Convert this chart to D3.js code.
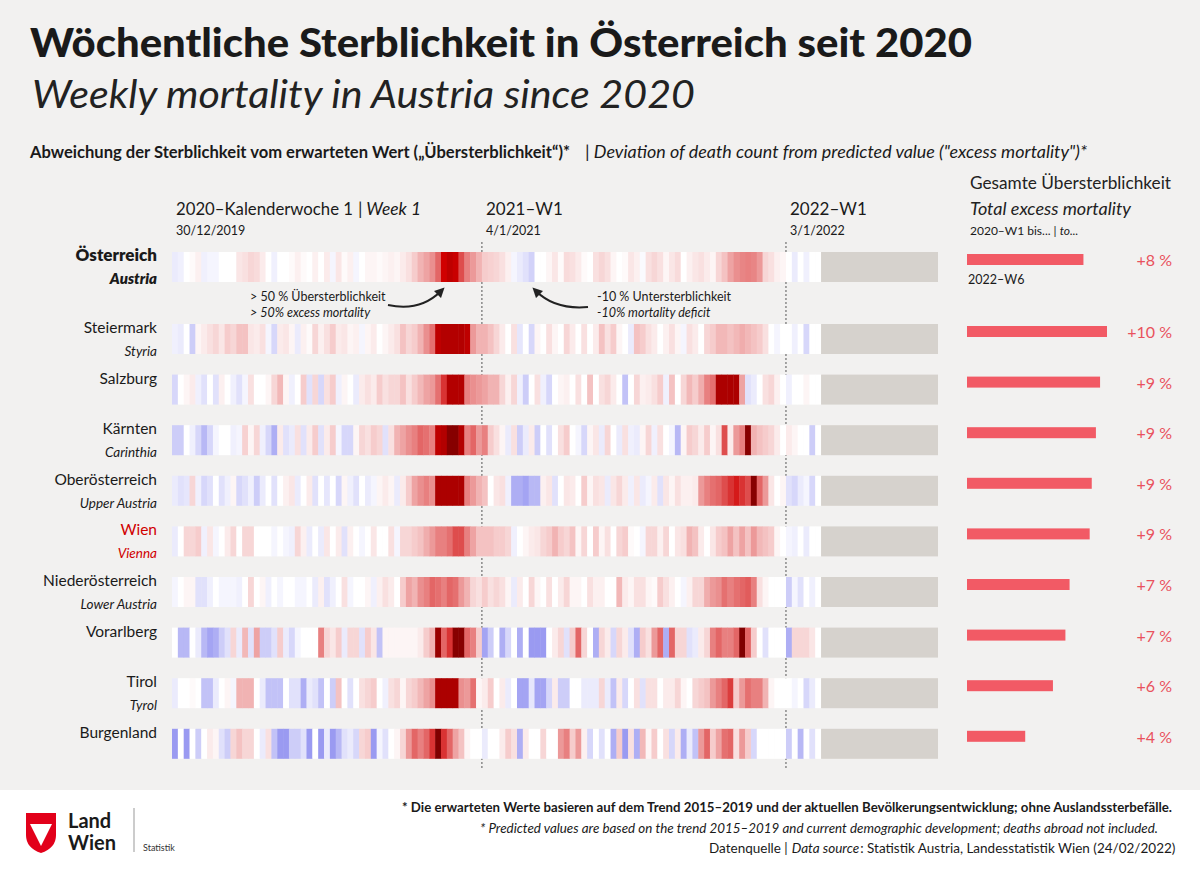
<!DOCTYPE html>
<html><head><meta charset="utf-8">
<script src="https://cdn.jsdelivr.net/npm/d3@7"></script>
<style>body{margin:0;background:#fff;font-family:Lato,"Open Sans",sans-serif}</style>
</head><body><svg id="c" width="1200" height="874"></svg>
<script>
const regionsDe=["Österreich","Steiermark","Salzburg","Kärnten","Oberösterreich","Wien","Niederösterreich","Vorarlberg","Tirol","Burgenland"];
const regionsEn=["Austria","Styria","","Carinthia","Upper Austria","Vienna","Lower Austria","","Tyrol",""];
const total=[8.4,10.1,9.6,9.3,9.0,8.85,7.4,7.1,6.2,4.2];
const totalLabels=["+8 %","+10 %","+9 %","+9 %","+9 %","+9 %","+7 %","+7 %","+6 %","+4 %"];
const y2020=[
[-4,-3,0,1,3,-3,-2,-2,0,0,0,5,6,8,7,4,0,-3,0,0,1,3,1,0,3,0,4,-2,5,1,3,-2,0,2,2,1,2,3,2,4,6,10,15,18,22,30,50,55,52,35,25,20,15],
[-3,-4,0,-10,2,4,6,8,5,10,8,12,12,5,4,6,-2,-8,4,5,2,-4,3,1,8,3,6,10,4,5,2,3,-2,2,4,0,2,4,6,12,8,10,15,22,28,55,58,58,58,58,55,20,15],
[-8,0,2,4,-3,-6,0,-6,3,0,-3,-6,-2,6,0,0,2,8,14,2,-3,0,10,-6,8,-8,6,10,-3,2,0,-4,4,6,4,10,6,8,8,12,6,10,14,18,20,28,40,58,58,58,25,22,20],
[-10,-10,0,-3,-8,-14,-8,-2,0,0,-3,-2,9,2,8,-3,-8,-16,4,-6,-4,6,-6,4,10,-6,4,10,-2,-8,-8,2,8,6,10,8,-6,6,15,18,22,25,30,28,25,55,58,70,70,58,25,30,20],
[-4,-6,-5,8,-3,-8,-6,0,-6,-3,2,-8,-6,-3,-10,-4,0,-6,0,3,5,-4,0,4,-6,0,-5,0,-8,2,-3,-6,0,-4,-2,2,4,2,-4,4,10,18,22,25,22,60,60,60,60,60,25,20,15],
[-4,0,8,8,10,-3,5,-2,0,4,8,0,8,8,0,0,0,-2,0,-2,-3,8,3,-4,0,-4,5,0,4,-6,3,0,-2,0,5,0,0,6,-2,8,8,10,12,16,20,25,25,28,35,35,25,18,12],
[-2,0,2,2,-6,-6,-3,0,-2,-2,-2,-3,0,8,0,2,-3,0,-2,0,0,-2,-2,0,-4,3,-6,-3,0,6,-2,0,0,2,-3,3,6,4,0,10,18,15,22,25,30,28,25,30,28,20,15,8,6],
[0,-14,-14,0,-4,-14,-18,-16,-10,-6,8,-4,14,-6,18,-10,-10,-6,10,-4,-8,-2,0,0,0,25,8,5,10,-4,8,8,-6,10,5,-12,2,2,2,2,2,2,4,10,15,65,30,40,70,70,30,25,10],
[-4,0,0,1,0,-12,-12,-4,0,2,-2,15,15,15,0,-4,-12,-12,-12,0,-6,-6,-16,-4,-6,-12,0,-10,12,0,-6,0,6,8,10,0,-3,6,8,2,8,10,14,18,22,60,60,60,60,22,20,28,2],
[-20,0,-20,0,-10,0,4,2,-6,-10,8,12,8,8,0,-4,6,-12,-20,-20,-10,-10,-6,-20,0,-20,-4,-20,-14,-6,-4,-8,8,10,-20,-2,-6,0,2,8,20,30,25,30,40,80,40,30,18,12,2,0,0]];
const y2021=[
[10,9,8,6,3,-2,-4,-6,-9,0,0,2,5,1,7,6,4,1,0,6,8,6,2,0,1,5,3,-1,6,8,6,2,5,7,0,3,5,6,4,2,8,12,18,22,24,25,24,20,8,6,3,2],
[15,12,8,4,0,6,-5,0,-8,2,0,6,2,0,8,4,0,6,0,4,12,6,10,2,0,-4,12,10,6,4,0,3,6,2,-2,6,4,0,8,10,14,14,12,14,16,14,12,10,6,0,-2,0],
[18,15,15,8,3,8,-3,-10,0,6,-3,-8,0,2,3,0,6,0,12,0,6,8,4,0,-12,0,8,3,4,6,10,-3,12,0,8,14,10,16,25,28,60,60,60,60,18,-6,-4,0,6,8,3,0],
[25,10,6,2,-4,6,-10,-4,4,-10,0,-6,0,6,10,0,-2,-8,2,5,-4,8,0,-4,6,-3,-4,2,8,-3,6,0,-2,-14,2,10,8,4,10,2,6,35,4,20,25,70,15,12,10,8,4,0],
[12,0,5,6,-3,-16,-16,-18,-14,-14,3,5,-6,0,5,4,0,10,2,6,5,-4,5,8,4,-3,5,-4,-2,4,-6,5,2,6,3,3,4,20,25,28,30,35,40,45,40,35,70,30,20,5,0,2],
[12,12,10,10,8,-3,0,2,4,5,8,10,15,10,8,12,2,8,0,10,2,6,0,8,10,1,0,-2,8,8,3,8,0,5,6,15,12,4,0,5,10,12,18,12,18,12,20,14,12,10,2,0],
[10,6,8,6,2,-4,4,0,8,2,0,6,0,4,8,2,2,0,6,3,3,0,0,14,4,2,6,6,2,1,10,6,3,0,-2,3,8,8,16,20,22,28,25,28,30,32,25,6,2,0,0,0],
[-18,-10,0,-16,-8,0,-16,0,-20,-20,-20,0,4,8,-6,10,30,8,0,-16,8,4,-8,8,4,-6,-16,10,6,20,30,-16,30,8,8,-6,-4,4,8,25,30,25,25,30,72,30,10,0,-6,0,0,0],
[4,10,0,4,-4,0,-18,-18,-5,-18,-18,-8,4,-10,-10,0,0,-4,-4,-4,8,-4,-12,4,-8,0,6,-6,6,6,0,4,4,8,2,0,8,10,12,20,25,30,38,10,20,28,25,25,15,2,0,0],
[-4,0,0,4,10,6,-16,4,0,0,8,0,0,20,25,10,20,3,-8,0,-6,0,-16,10,-20,6,-16,14,2,10,0,6,-8,4,-16,-4,-12,20,30,10,18,28,30,6,20,10,-8,0,0,0,0,0]];
const y2022=[[0,-4,0,-3,0,0],[0,-3,0,-8,0,0],[-3,0,0,2,0,0],[4,2,0,0,-10,0],[-6,-8,-4,-2,-8,0],[-2,-3,0,-4,0,0],[-10,-2,-6,0,-3,0],[-16,8,8,8,5,0],[0,-2,0,-8,-4,0],[-10,0,-14,0,-6,0]];
const yearStarts=[0,53,105]; const nCols=131;

const svg=d3.select("#c");
svg.append("rect").attr("width",1200).attr("height",790).attr("fill","#f2f1f0");
const x=d3.scaleLinear().domain([0,nCols]).range([172,938]);
const cw=x(1)-x(0);
const rowTop=i=>i===0?252:324+(i-1)*50.6;
const rh=30;
const col=d3.scaleLinear().domain([-22,0,50,72]).range(["#9090f0","#ffffff","#d00000","#800000"]).clamp(true);
const w=d3.scaleLinear().domain([0,10.1]).range([0,140]);

const T=(t,xx,yy,o={})=>{const e=svg.append("text").attr("x",xx).attr("y",yy).text(t)
 .attr("font-size",o.s||14).attr("fill",o.c||"#1a1a1a").attr("font-weight",o.w||400)
 .attr("font-style",o.i?"italic":"normal").attr("text-anchor",o.a||"start").attr("font-family",o.f||"Lato,'Open Sans',sans-serif");
 if(o.L)e.attr("textLength",o.L).attr("lengthAdjust","spacingAndGlyphs");return e;};
const after=(e,gap=0)=>{const b=e.node().getBBox();return b.x+b.width+gap;};

T("Wöchentliche Sterblichkeit in Österreich seit 2020",30,57,{s:40,w:900,L:942});
T("Weekly mortality in Austria since 2020",32,108,{s:38,i:1,c:"#222",L:663});
T("Abweichung der Sterblichkeit vom erwarteten Wert („Übersterblichkeit“)*",30,158,{s:17,w:700,L:540});
T("| Deviation of death count from predicted value (\"excess mortality\")*",585,158,{s:17,i:1,L:502});

T("2020–Kalenderwoche 1",176,215,{s:17,L:177});
T("| Week 1",358,215,{s:17,i:1,L:63});
T("30/12/2019",176,235,{s:12.5});
T("2021–W1",486,215,{s:17});T("4/1/2021",486,235,{s:12.5});
T("2022–W1",790,215,{s:17});T("3/1/2022",790,235,{s:12.5});
T("Gesamte Übersterblichkeit",970,189,{s:17,c:"#222",L:201});
T("Total excess mortality",970,215,{s:17,i:1,c:"#222",L:161});
const b1=T("2020–W1 bis... |",970,235,{s:12});T("to...",after(b1,3),235,{s:12,i:1});
T("2022–W6",968,284,{s:12.5});

[x(53),x(105)].forEach(v=>svg.append("line").attr("x1",v).attr("x2",v).attr("y1",242).attr("y2",770)
 .attr("stroke","#555").attr("stroke-dasharray","2,2").attr("stroke-width",1));

regionsDe.forEach((r,i)=>{
 const g=svg.append("g");const top=rowTop(i);
 const vals=[];
 [y2020[i],y2021[i],y2022[i]].forEach((arr,yi)=>arr.forEach((v,k)=>vals.push({c:yearStarts[yi]+k,v})));
 g.selectAll("rect.c").data(vals).join("rect").attr("x",d=>x(d.c)).attr("y",top)
  .attr("width",cw+0.4).attr("height",rh).attr("fill",d=>col(d.v));
 g.append("rect").attr("x",x(111)).attr("y",top).attr("width",x(nCols)-x(111)).attr("height",rh).attr("fill","#d6d2cd");
 const red=r==="Wien";const bold=i===0;
 T(r,157,top+9,{s:bold?17:15.5,a:"end",w:bold?800:400,c:red?"#d00000":"#1a1a1a"});
 if(regionsEn[i])T(regionsEn[i],157,top+32,{s:bold?15:13.5,a:"end",i:1,w:bold?800:400,c:red?"#d00000":"#1a1a1a"});
 g.append("rect").attr("x",967).attr("y",top+2).attr("width",w(total[i])).attr("height",11).attr("fill","#f25a65");
 T(totalLabels[i],1172,top+14,{s:16,a:"end",c:"#e9525d"});
});

T("> 50 % Übersterblichkeit",250,301,{s:12.5});
T("> 50% excess mortality",250,317,{s:12.5,i:1});
T("-10 % Untersterblichkeit",597,301,{s:12.5});
T("-10% mortality deficit",597,317,{s:12.5,i:1});
const defs=svg.append("defs");
defs.append("marker").attr("id","ah").attr("viewBox","0 0 10 10").attr("refX",5).attr("refY",5)
 .attr("markerWidth",5).attr("markerHeight",5).attr("orient","auto-start-reverse")
 .append("path").attr("d","M0,0L10,5L0,10z").attr("fill","#222");
svg.append("path").attr("d","M388,305 Q420,312 441,291").attr("fill","none").attr("stroke","#222").attr("stroke-width",2).attr("marker-end","url(#ah)");
svg.append("path").attr("d","M588,307 Q555,310 536,291").attr("fill","none").attr("stroke","#222").attr("stroke-width",2).attr("marker-end","url(#ah)");

// footer
svg.append("path").attr("d","M26,813 H56 V835 Q56,848 41,853 Q26,848 26,835 Z").attr("fill","#e2001a");
svg.append("path").attr("d","M30,824 H52 L41,846 Z").attr("fill","#fff");
T("Land",68,828,{s:20,w:700});T("Wien",68,850,{s:20,w:700});
svg.append("line").attr("x1",134).attr("x2",134).attr("y1",808).attr("y2",852).attr("stroke","#999");
T("Statistik",143,851,{s:9,c:"#333"});
T("* Die erwarteten Werte basieren auf dem Trend 2015–2019 und der aktuellen Bevölkerungsentwicklung; ohne Auslandssterbefälle.",1172,812,{s:13,w:700,a:"end",L:770});
T("* Predicted values are based on the trend 2015–2019 and current demographic development; deaths abroad not included.",1158,833,{s:13,i:1,a:"end",L:678});
const s1=T("Datenquelle | ",709,853,{s:13.5});
const s2=T("Data source",after(s1,4),853,{s:13.5,i:1});
T(": Statistik Austria, Landesstatistik Wien (24/02/2022)",after(s2,1),853,{s:13.5});
</script></body></html>
